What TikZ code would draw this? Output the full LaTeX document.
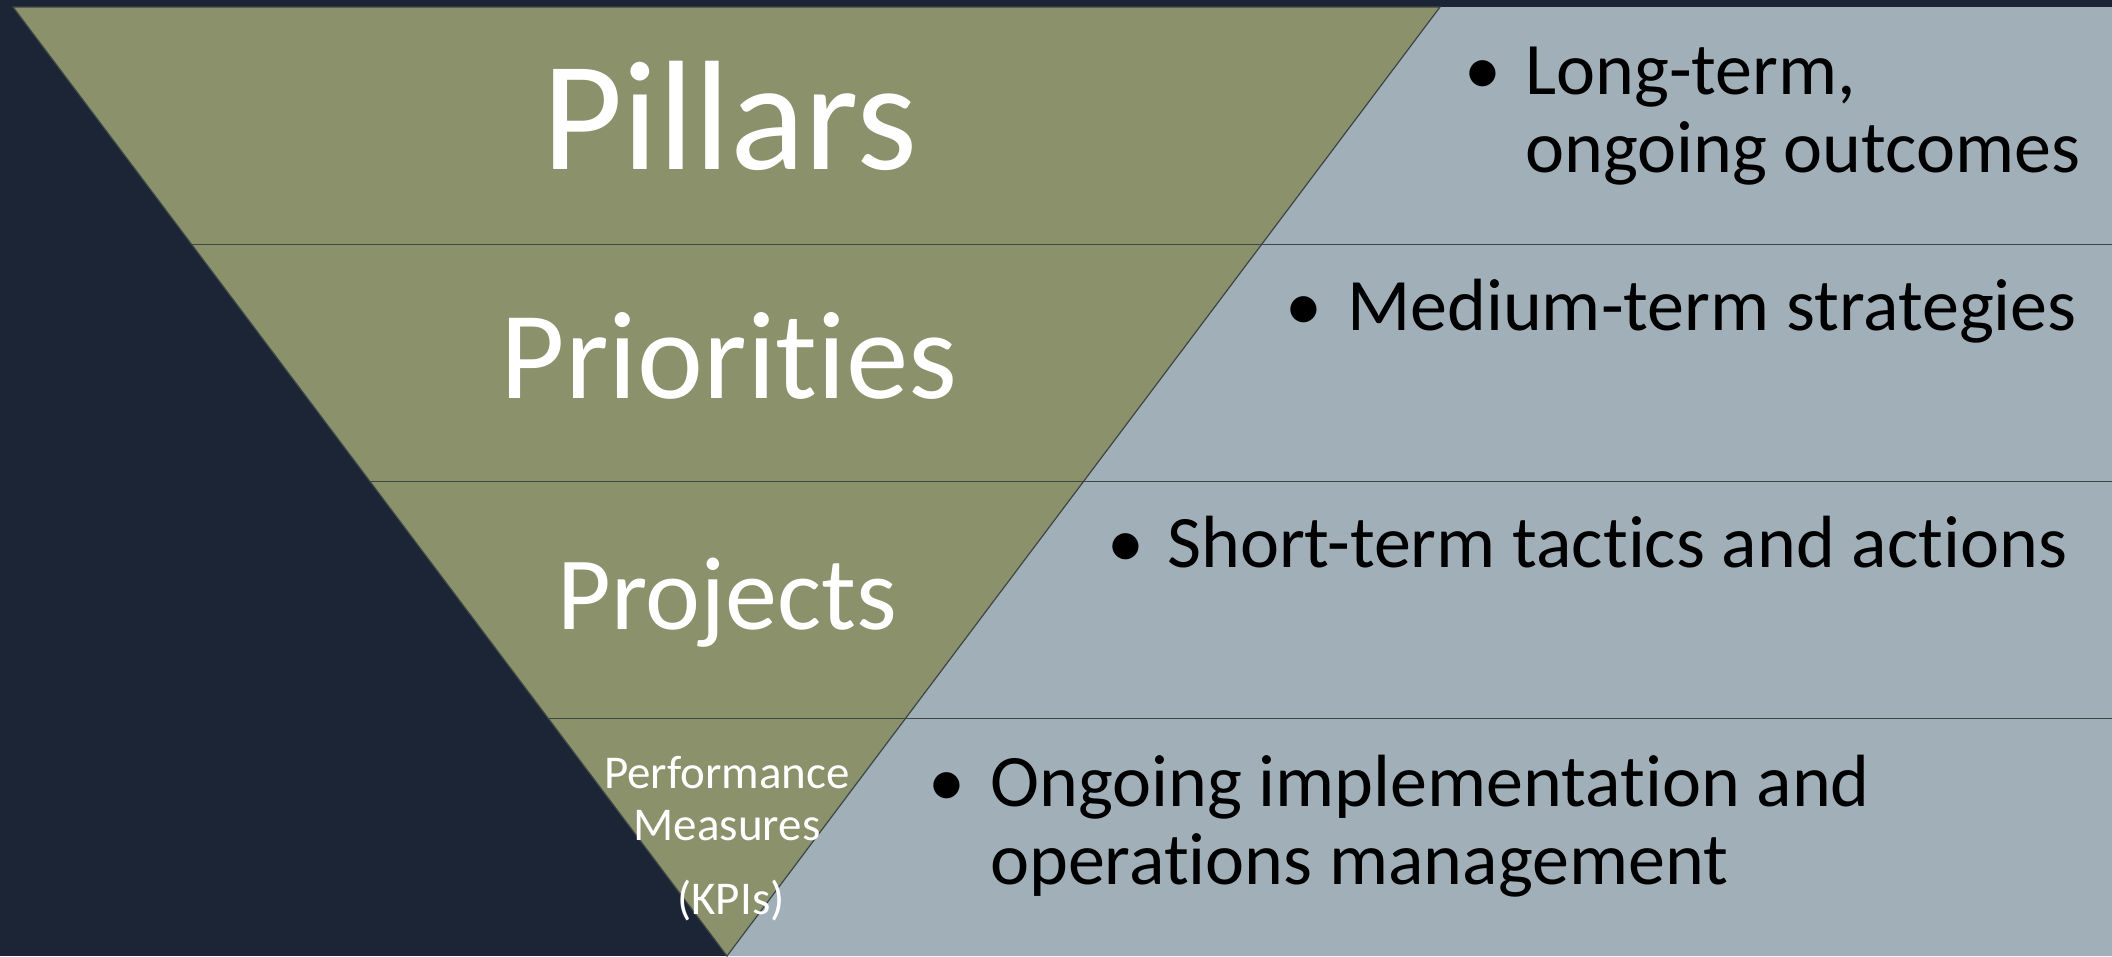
\documentclass[tikz,border=0pt]{standalone}
\usepackage{fontspec}
\setmainfont{Carlito}[Ligatures={NoCommon}]
\usetikzlibrary{calc}

\definecolor{navy}{HTML}{1B2535}
\definecolor{olive}{HTML}{8A916B}
\definecolor{slate}{HTML}{A0AFB8}
\definecolor{rulecol}{HTML}{3C4645}

\tikzset{
  tier/.style={draw=rulecol, line width=1.4pt},
  tierlabel/.style={text=white, inner sep=0pt, anchor=base},
  point/.style={text=black, inner sep=0pt, anchor=base west, font=\fontsize{74}{80}\selectfont},
  dot/.style={text=black, inner sep=0pt, anchor=base, font=\fontsize{74}{80}\selectfont}
}

\begin{document}
\begin{tikzpicture}[x=1pt, y=-1pt]
    \fill[navy] (0,0) rectangle (2112,956);
    \useasboundingbox (0,0) rectangle (2112,956);

    \coordinate (tl) at (13,7);
    \coordinate (tr) at (1440,7);
    \coordinate (apex) at (727,956);
    \coordinate (east) at (2112,0);

    % right hand panel
    \fill[slate] (tr) -- (2112,7) -- (2112,956) -- (apex) -- cycle;

    % inverted triangle
    \fill[olive] (tl) -- (tr) -- (apex) -- cycle;
    \draw[rulecol, line width=1.2pt] (tl) -- (tr) -- (apex) -- cycle;

    \foreach \f in {0.25,0.5,0.75} {
        \coordinate (s) at ($(tl)!\f!(apex)$);
        \draw[tier] (s) -- (s -| east);
    }

    \node[tierlabel, font=\fontsize{156}{160}\selectfont] (pillars) at (730,169) {Pillars};
    \node[tierlabel, font=\fontsize{125}{130}\selectfont] (priorities) at (729,398) {Priorities};
    \node[tierlabel, font=\fontsize{104}{110}\selectfont] (projects) at (727,629) {Projects};
    \node[tierlabel, font=\fontsize{47}{52}\selectfont] (perf) at (727,788) {Performance};
    \node[tierlabel, font=\fontsize{47}{52}\selectfont] (meas) at (727,840) {Measures};
    \node[tierlabel, font=\fontsize{47}{52}\selectfont] (kpis) at (731,914) {(KPIs)};

    \node[dot] (b1) at (1483,94) {•};
    \node[point] (longterm) at (1525,94) {Long-term,};
    \node[point] (outcomes) at (1525,172) {ongoing outcomes};

    \node[dot] (b2) at (1304,330) {•};
    \node[point] (medium) at (1347,330) {Medium-term strategies};

    \node[dot] (b3) at (1126,567) {•};
    \node[point] (short) at (1167,567) {Short-term tactics and actions};

    \node[dot] (b4) at (947,806) {•};
    \node[point] (ongoing) at (990,806) {Ongoing implementation and};
    \node[point] (operations) at (990,884) {operations management};
\end{tikzpicture}
\end{document}
